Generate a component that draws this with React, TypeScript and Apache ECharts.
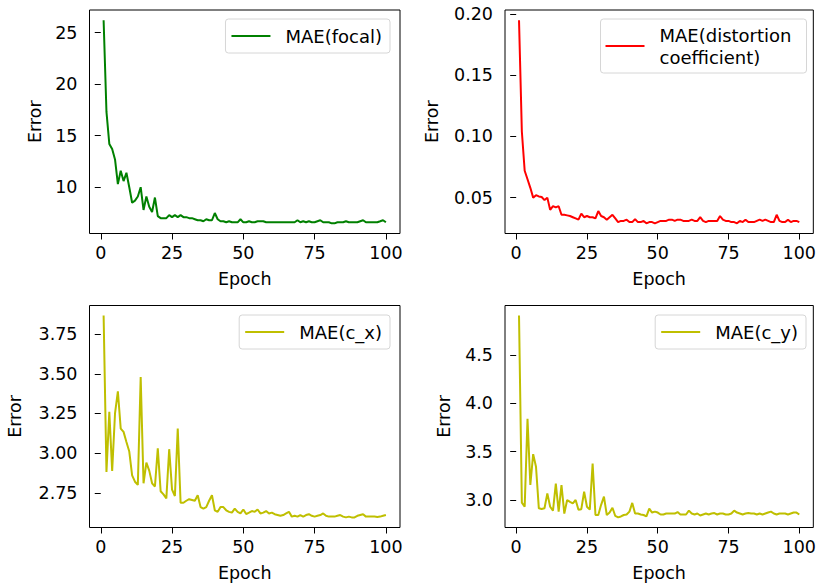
import React, { useEffect, useRef } from "react";
import * as echarts from "echarts";

const epochs: number[] = Array.from({ length: 100 }, (_, i) => i + 1);
const xTicks = [0, 25, 50, 75, 100];

const focal = [
  26.2, 17.3, 14.2, 13.7, 12.7, 10.3, 11.6, 10.6, 11.4, 10.0,
  8.5, 8.7, 9.1, 10.0, 7.8, 9.1, 8.1, 7.6, 9.0, 7.2,
  7.0, 7.0, 7.0, 7.3, 7.1, 7.3, 7.1, 7.3, 7.1, 7.1,
  7.0, 7.0, 6.9, 6.8, 6.8, 6.7, 6.9, 6.8, 6.8, 7.5,
  6.9, 6.7, 6.7, 6.6, 6.7, 6.6, 6.6, 6.6, 6.9, 6.6,
  6.6, 6.7, 6.6, 6.6, 6.7, 6.7, 6.7, 6.6, 6.6, 6.6,
  6.6, 6.6, 6.6, 6.6, 6.6, 6.6, 6.6, 6.6, 6.8, 6.6,
  6.7, 6.6, 6.7, 6.6, 6.6, 6.7, 6.8, 6.6, 6.6, 6.6,
  6.5, 6.5, 6.6, 6.6, 6.6, 6.7, 6.6, 6.6, 6.6, 6.6,
  6.7, 6.8, 6.6, 6.6, 6.6, 6.6, 6.6, 6.7, 6.8, 6.6,
];

const distortion = [
  0.195, 0.104, 0.072, 0.065, 0.058, 0.05, 0.052, 0.051, 0.0505, 0.048,
  0.05, 0.04, 0.043, 0.042, 0.043, 0.036, 0.036, 0.0355, 0.035, 0.034,
  0.033, 0.032, 0.037, 0.034, 0.035, 0.034, 0.034, 0.033, 0.039, 0.035,
  0.034, 0.032, 0.034, 0.036, 0.033, 0.03, 0.031, 0.031, 0.032, 0.03,
  0.03, 0.0325, 0.03, 0.03, 0.031, 0.029, 0.03, 0.03, 0.029, 0.03,
  0.031, 0.031, 0.031, 0.032, 0.032, 0.031, 0.032, 0.032, 0.031, 0.031,
  0.031, 0.032, 0.031, 0.031, 0.034, 0.031, 0.03, 0.031, 0.031, 0.031,
  0.031, 0.035, 0.032, 0.031, 0.031, 0.03, 0.03, 0.029, 0.031, 0.03,
  0.032, 0.03, 0.03, 0.03, 0.031, 0.032, 0.031, 0.032, 0.031, 0.03,
  0.03, 0.036, 0.031, 0.03, 0.03, 0.032, 0.03, 0.031, 0.031, 0.03,
];

const cx = [
  3.867, 2.882, 3.26, 2.888, 3.25, 3.39, 3.155, 3.134, 3.07, 3.01,
  2.86, 2.82, 2.8, 3.48, 2.81, 2.94, 2.89, 2.81, 2.79, 3.03,
  2.76, 2.74, 2.715, 3.025, 2.77, 2.73, 3.155, 2.687, 2.687, 2.7,
  2.71, 2.705, 2.7, 2.735, 2.66, 2.65, 2.66, 2.7, 2.735, 2.64,
  2.63, 2.66, 2.66, 2.64, 2.63, 2.625, 2.65, 2.63, 2.62, 2.645,
  2.616, 2.625, 2.635, 2.63, 2.645, 2.62, 2.625, 2.635, 2.62, 2.625,
  2.615, 2.61, 2.605, 2.61, 2.62, 2.63, 2.6, 2.605, 2.6, 2.61,
  2.6, 2.61, 2.615, 2.605, 2.6, 2.605, 2.61, 2.62, 2.605, 2.6,
  2.6, 2.6, 2.605, 2.61, 2.6, 2.595, 2.6, 2.595, 2.595, 2.605,
  2.61, 2.615, 2.6, 2.6, 2.6, 2.6, 2.598, 2.6, 2.605, 2.61,
];

const cy = [
  4.905, 2.972, 2.93, 3.84, 3.155, 3.474, 3.343, 2.914, 2.907, 2.914,
  3.068, 2.93, 2.89, 3.17, 2.88, 3.155, 2.86, 3.0, 2.98, 2.965,
  3.0, 2.9, 2.905, 3.085, 2.93, 2.9, 3.377, 2.845, 2.845, 2.95,
  3.035, 2.845, 2.87, 2.92, 2.835, 2.82, 2.83, 2.845, 2.85, 2.88,
  2.97, 2.86, 2.86, 2.85, 2.845, 2.83, 2.91, 2.87, 2.88, 2.87,
  2.85, 2.85, 2.86, 2.86, 2.86, 2.86, 2.875, 2.85, 2.85, 2.85,
  2.89, 2.86, 2.85, 2.86, 2.84, 2.85, 2.86, 2.85, 2.86, 2.865,
  2.85, 2.86, 2.86, 2.85, 2.85, 2.86, 2.89, 2.87, 2.86, 2.85,
  2.86, 2.865, 2.86, 2.86, 2.85, 2.86, 2.85, 2.86, 2.87, 2.88,
  2.86, 2.85, 2.86, 2.86, 2.86, 2.85, 2.86, 2.87, 2.87, 2.85,
];

const focalTicks = [10, 15, 20, 25];
const distortionTicks = [0.05, 0.1, 0.15, 0.2];
const cxTicks = [2.75, 3.0, 3.25, 3.5, 3.75];
const cyTicks = [3.0, 3.5, 4.0, 4.5];

const names = ["MAE(focal)", "MAE(distortion\ncoefficient)", "MAE(c_x)", "MAE(c_y)"];
const colors = ["#008000", "#ff0000", "#bfbf00", "#bfbf00"];

const FONT = "DejaVu Sans";
const FS = 17.5;
const LFS = 18;

function padRange(vals: number[]): [number, number] {
  const lo = Math.min(...vals);
  const hi = Math.max(...vals);
  const m = (hi - lo) * 0.05;
  return [lo - m, hi + m];
}

export default function App() {
  const ref = useRef<HTMLDivElement>(null);
  useEffect(() => {
    if (!ref.current) return;
    const chart = echarts.init(ref.current, null, { renderer: "svg" });
    const seriesData = [focal, distortion, cx, cy];
    const yTicks = [focalTicks, distortionTicks, cxTicks, cyTicks];
    const decimals = [0, 2, 2, 1];
    const grids = [
      { left: 89.5, top: 10, width: 310.5, height: 223.5 },
      { left: 505, top: 10, width: 309.5, height: 223.5 },
      { left: 89.5, top: 305.5, width: 310.5, height: 222 },
      { left: 505, top: 305.5, width: 310, height: 222 },
    ];
    const yNameGaps = [46, 64, 66, 52];
    const legendPos = [
      { right: 819 - 390, top: 19 },
      { right: 819 - 806.5, top: 19 },
      { right: 819 - 390, top: 315 },
      { right: 819 - 806, top: 315 },
    ];
    const xr = padRange(epochs);
    const option: any = {
      animation: false,
      backgroundColor: "#ffffff",
      grid: grids.map((g) => ({
        ...g,
        show: true,
        borderColor: "#000",
        borderWidth: 1,
        backgroundColor: "transparent",
        containLabel: false,
      })),
      xAxis: grids.map((_, i) => ({
        type: "value",
        gridIndex: i,
        min: xr[0],
        max: xr[1],
        name: "Epoch",
        nameLocation: "middle",
        nameGap: 36,
        nameTextStyle: { fontFamily: FONT, fontSize: FS, color: "#000" },
        axisLine: { show: false },
        splitLine: { show: false },
        axisTick: {
          show: true,
          customValues: xTicks,
          length: 6,
          lineStyle: { color: "#000", width: 1 },
        },
        axisLabel: {
          customValues: xTicks,
          margin: 10,
          fontFamily: FONT,
          fontSize: FS,
          color: "#000",
          formatter: (v: number) => String(Math.round(v)),
        },
      })),
      yAxis: grids.map((_, i) => {
        const r = padRange(seriesData[i]);
        return {
          type: "value",
          gridIndex: i,
          min: r[0],
          max: r[1],
          name: "Error",
          nameLocation: "middle",
          nameGap: yNameGaps[i],
          nameRotate: 90,
          nameTextStyle: { fontFamily: FONT, fontSize: FS, color: "#000" },
          axisLine: { show: false },
          splitLine: { show: false },
          axisTick: {
            show: true,
            customValues: yTicks[i],
            length: 6,
            lineStyle: { color: "#000", width: 1 },
          },
          axisLabel: {
            customValues: yTicks[i],
            margin: 12,
            fontFamily: FONT,
            fontSize: FS,
            color: "#000",
            formatter: (v: number) => v.toFixed(decimals[i]),
          },
        };
      }),
      legend: names.map((n, i) => ({
        data: [n],
        ...legendPos[i],
        orient: "vertical",
        icon: "rect",
        padding: i === 1 ? [5, 15, 5, 5] : [8, 8, 8, 6],
        itemWidth: 39,
        itemHeight: 2,
        backgroundColor: "#fff",
        borderColor: "#d6d6d6",
        borderWidth: 1,
        borderRadius: 3,
        selectedMode: false,
        textStyle: {
          fontFamily: FONT,
          fontSize: LFS,
          color: "#000",
          lineHeight: i === 1 ? 22 : 17,
          padding: [0, 0, 0, 10],
        },
      })),
      series: names.map((n, i) => ({
        type: "line",
        name: n,
        xAxisIndex: i,
        yAxisIndex: i,
        showSymbol: false,
        symbol: "none",
        data: epochs.map((e, k) => [e, seriesData[i][k]]),
        lineStyle: { color: colors[i], width: 2 },
        itemStyle: { color: colors[i] },
      })),
    };
    chart.setOption(option);
    return () => chart.dispose();
  }, []);
  return (
    <div
      ref={ref}
      style={{ position: "absolute", left: 0, top: 0, width: 819, height: 584 }}
    />
  );
}
